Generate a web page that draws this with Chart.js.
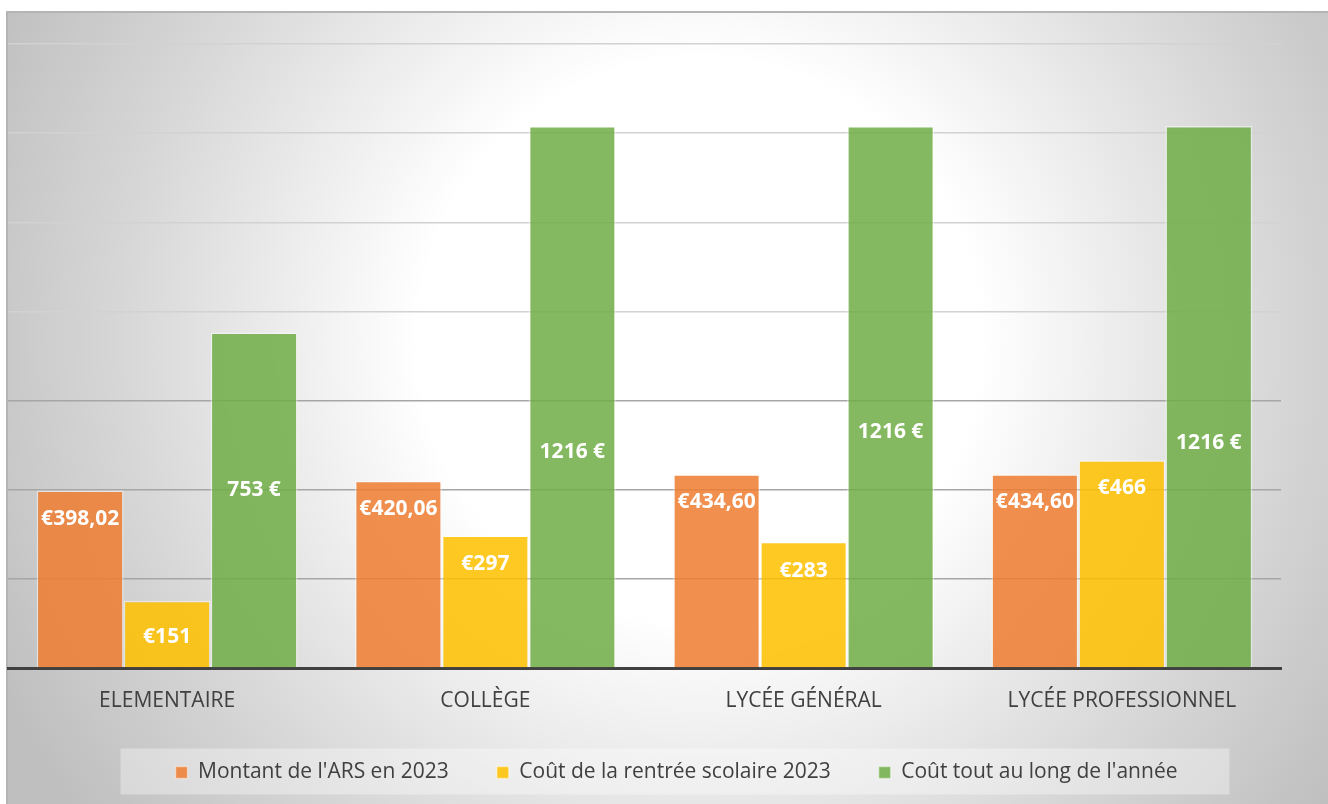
<!DOCTYPE html>
<html>
<head>
<meta charset="utf-8">
<script src="https://cdn.jsdelivr.net/npm/chart.js@4/dist/chart.umd.min.js"></script>
<style>
  html, body { margin: 0; padding: 0; background: #fff; }
  #wrap { width: 1328px; height: 804px; position: relative; }
</style>
</head>
<body>
<div id="wrap"><canvas id="arsChart"></canvas></div>
<script>
const categories = ['ELEMENTAIRE', 'COLLÈGE', 'LYCÉE GÉNÉRAL', 'LYCÉE PROFESSIONNEL'];
const seriesNames = ["Montant de l'ARS en 2023", 'Coût de la rentrée scolaire 2023', "Coût tout au long de l'année"];
const arsValues = [398.02, 420.06, 434.60, 434.60];
const rentreeValues = [151, 297, 283, 466];
const anneeValues = [753, 1216, 1216, 1216];
const yTicks = [0, 200, 400, 600, 800, 1000, 1200, 1400];

// label placement (px below the top of each bar) – style, not data
const labelDrop = [
  [28, 28, 28, 28],
  [36, 28, 29, 28],
  [158, 326, 306, 317]
];
const fmtEuroDec = v => '€' + v.toFixed(2).replace('.', ',');
const fmtEuro = v => '€' + v;
const fmtEuroAfter = v => v + ' €';
const labelFormats = [fmtEuroDec, fmtEuro, fmtEuroAfter];

const backdrop = {
  id: 'backdrop',
  beforeDraw(chart) {
    const c = chart.ctx;
    c.save();
    c.fillStyle = '#fff';
    c.fillRect(0, 0, chart.width, chart.height);
    const g = c.createRadialGradient(700, 340, 0, 700, 340, 780);
    g.addColorStop(0, '#ffffff');
    g.addColorStop(0.36, '#ffffff');
    g.addColorStop(0.75, '#d6d6d6');
    g.addColorStop(1, '#bfbfbf');
    c.fillStyle = g;
    c.fillRect(7, 12, chart.width - 7, chart.height - 12);
    c.strokeStyle = '#b4b4b4';
    c.lineWidth = 2;
    c.beginPath();
    c.moveTo(7, chart.height);
    c.lineTo(7, 12);
    c.lineTo(chart.width, 12);
    c.stroke();
    // legend backing box
    const lg = chart.legend;
    if (lg && lg.legendHitBoxes && lg.legendHitBoxes.length) {
      const hb = lg.legendHitBoxes;
      const x0 = hb[0].left - 55;
      const last = hb[hb.length - 1];
      const x1 = last.left + last.width + 52;
      const cy = hb[0].top + hb[0].height / 2;
      c.fillStyle = 'rgba(255,255,255,0.35)';
      c.fillRect(x0, cy - 24, x1 - x0, 46);
    }
    c.restore();
  },
  afterLayout(chart) {
    const lg = chart.legend;
    if (lg) { lg.left += 32; lg.right += 32; }
  }
};

const barLabels = {
  id: 'barLabels',
  afterDatasetsDraw(chart) {
    const c = chart.ctx;
    c.save();
    c.fillStyle = '#ffffff';
    c.font = 'bold 21px "Open Sans", sans-serif';
    c.textAlign = 'center';
    c.textBaseline = 'middle';
    chart.data.datasets.forEach((ds, di) => {
      const meta = chart.getDatasetMeta(di);
      meta.data.forEach((bar, i) => {
        c.fillText(labelFormats[di](ds.data[i]), bar.x, bar.y + labelDrop[di][i]);
      });
    });
    c.restore();
  }
};

new Chart(document.getElementById('arsChart'), {
  type: 'bar',
  data: {
    labels: categories,
    datasets: [
      { label: seriesNames[0], data: arsValues, backgroundColor: 'rgba(237,125,49,0.86)', borderColor: 'rgba(255,255,255,0.45)', borderWidth: 1.5 },
      { label: seriesNames[1], data: rentreeValues, backgroundColor: 'rgba(255,192,0,0.86)', borderColor: 'rgba(255,255,255,0.45)', borderWidth: 1.5 },
      { label: seriesNames[2], data: anneeValues, backgroundColor: 'rgba(112,173,71,0.86)', borderColor: 'rgba(255,255,255,0.45)', borderWidth: 1.5 }
    ]
  },
  options: {
    responsive: true,
    maintainAspectRatio: false,
    animation: false,
    layout: { padding: { left: 8, right: 47, top: 44, bottom: 11 } },
    datasets: { bar: { categoryPercentage: 0.82, barPercentage: 1 } },
    scales: {
      x: {
        grid: { display: false, drawTicks: false },
        border: { display: true, color: '#404040', width: 3 },
        ticks: { color: '#404040', font: { family: '"Open Sans", sans-serif', size: 21 }, padding: 20, maxRotation: 0 },
        afterFit: s => { s.height = 46; }
      },
      y: {
        min: 0,
        max: 1400,
        afterBuildTicks: s => { s.ticks = yTicks.map(v => ({ value: v })); },
        grid: {
          drawTicks: false,
          lineWidth: 1.5,
          color: ctx => (ctx.tick && ctx.tick.value >= 800) ? '#d2d2d2' : '#a6a6a6'
        },
        border: { display: false },
        ticks: { display: false },
        afterFit: s => { s.width = 0; }
      }
    },
    plugins: {
      legend: {
        position: 'bottom',
        labels: {
          color: '#404040',
          boxWidth: 12,
          boxHeight: 12,
          padding: 48,
          font: { family: '"Open Sans", sans-serif', size: 21 }
        }
      },
      tooltip: { enabled: false }
    }
  },
  plugins: [backdrop, barLabels]
});
</script>
</body>
</html>
